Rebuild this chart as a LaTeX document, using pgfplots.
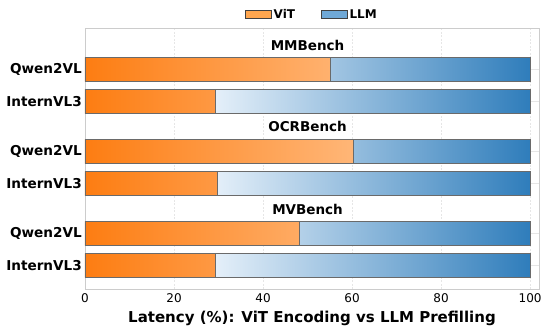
\documentclass[border=0pt]{standalone}
\usepackage{fontspec}
\setmainfont{DejaVu Sans}
\usepackage{pgfplots}
\usepackage{pgfplotstable}
\pgfplotsset{compat=1.18}

\definecolor{vitdark}{HTML}{FD7D12}
\definecolor{vitlight}{HTML}{FFB677}
\definecolor{llmlight}{HTML}{E4EFF9}
\definecolor{llmdark}{HTML}{2F7DBB}
\definecolor{vitleg}{HTML}{FFA64F}
\definecolor{llmleg}{HTML}{6FA8D6}
\definecolor{framegray}{HTML}{CCCCCC}
\definecolor{gridgray}{HTML}{E6E6E6}
\definecolor{edgegray}{HTML}{6A6A6A}

% y = bar position (top to bottom), vit / llm = share of latency in %
\pgfplotstableread{
y      vit   llm
69.5   55.1  44.9
101.5  29.4  70.6
151.5  60.3  39.7
183.5  29.7  70.3
233.5  48.2  51.8
265.5  29.4  70.6
}\latency

\begin{document}
\begin{tikzpicture}
\begin{axis}[
    scale only axis,
    width=454pt, height=261pt,
    xbar stacked,
    bar width=24.4,
    y dir=reverse,
    xmin=0, xmax=102,
    ymin=28.3, ymax=289.3,
    xtick={0,20,40,60,80,100},
    ytick={69.5,101.5,151.5,183.5,233.5,265.5},
    yticklabels={Qwen2VL,InternVL3,Qwen2VL,InternVL3,Qwen2VL,InternVL3},
    major tick length=0pt,
    axis line style={framegray, line width=0.8pt},
    xmajorgrids, ymajorgrids,
    x grid style={gridgray, dash pattern=on 2pt off 1.5pt, line width=0.6pt},
    y grid style={gridgray, line width=0.6pt},
    /pgf/number format/assume math mode=true,
    xticklabel style={font=\fontsize{12}{14}\selectfont, inner sep=0pt, yshift=-4pt},
    yticklabel style={font=\bfseries\fontsize{13.6}{16}\selectfont, inner sep=0pt, xshift=-3pt},
    xlabel={Latency (\%): ViT Encoding vs LLM Prefilling},
    xlabel style={font=\bfseries\fontsize{15}{18}\selectfont,
        at={(axis description cs:0.5,0)}, anchor=base, yshift=-33pt},
    legend columns=2,
    legend image code/.code={\draw[#1] (0pt,-4pt) rectangle (25.7pt,4pt);},
    legend style={draw=none, fill=none, at={(0.5,1)}, anchor=south, yshift=4pt,
        font=\bfseries\fontsize{12}{14}\selectfont,
        /tikz/every even column/.append style={column sep=24pt}},
]
\addlegendimage{fill=vitleg, draw=black!75, line width=0.8pt}
\addlegendentry{ViT}
\addlegendimage{fill=llmleg, draw=black!75, line width=0.8pt}
\addlegendentry{LLM}

\addplot[forget plot, draw=edgegray, line width=0.8pt, left color=vitdark, right color=vitlight]
    table[x=vit, y=y] {\latency};
\addplot[forget plot, draw=edgegray, line width=0.8pt, left color=llmlight, right color=llmdark]
    table[x=llm, y=y] {\latency};

\node[font=\bfseries\fontsize{13.5}{16}\selectfont] at (axis cs:50,45.3) {MMBench};
\node[font=\bfseries\fontsize{13.5}{16}\selectfont] at (axis cs:50,126.5) {OCRBench};
\node[font=\bfseries\fontsize{13.5}{16}\selectfont] at (axis cs:50,209) {MVBench};
\end{axis}
\pgfresetboundingbox
\useasboundingbox ([shift={(-85pt,-38.7pt)}]current axis.south west) rectangle ++(548pt,328pt);
\end{tikzpicture}
\end{document}
